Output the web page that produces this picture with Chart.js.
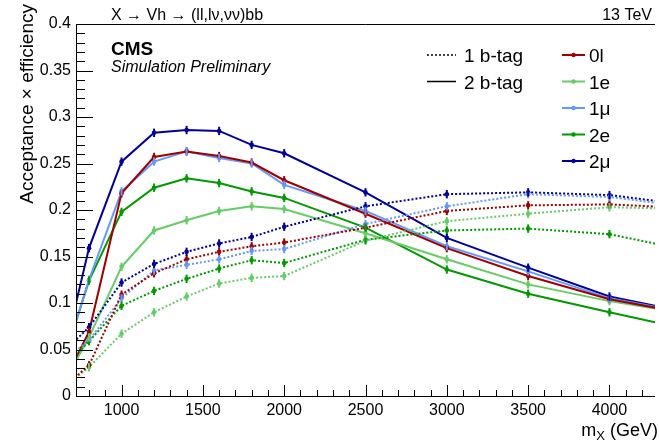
<!DOCTYPE html>
<html lang="en">
<head>
<meta charset="UTF-8">
<title>Acceptance x efficiency</title>
<script src="https://cdn.jsdelivr.net/npm/chart.js"></script>
<style>
  html, body { margin: 0; padding: 0; background: #fff; }
  #wrap { width: 659px; height: 443px; position: relative; }
</style>
</head>
<body>
<div id="wrap"><canvas id="effChart"></canvas></div>
<script>
// signal masses (GeV); 600 and 4500 sit just outside the visible x range
var masses = [600, 800, 1000, 1200, 1400, 1600, 1800, 2000, 2500, 3000, 3500, 4000, 4500];

// 1 b-tag (dotted)
var oneTag0l  = [0.003, 0.033, 0.109, 0.132, 0.147, 0.155, 0.161, 0.165, 0.181, 0.199, 0.205, 0.206, 0.202];
var oneTag1e  = [0.003, 0.031, 0.067, 0.090, 0.107, 0.121, 0.127, 0.129, 0.167, 0.188, 0.196, 0.203, 0.201];
var oneTag1mu = [0.032, 0.060, 0.105, 0.135, 0.141, 0.147, 0.156, 0.158, 0.185, 0.204, 0.217, 0.214, 0.203];
var oneTag2e  = [0.022, 0.059, 0.097, 0.113, 0.126, 0.137, 0.146, 0.143, 0.168, 0.178, 0.180, 0.174, 0.156];
var oneTag2mu = [0.040, 0.074, 0.122, 0.142, 0.155, 0.164, 0.171, 0.182, 0.204, 0.217, 0.219, 0.216, 0.205];

// 2 b-tag (solid)
var twoTag0l  = [0.000, 0.069, 0.218, 0.257, 0.263, 0.258, 0.251, 0.232, 0.196, 0.159, 0.129, 0.104, 0.088];
var twoTag1e  = [0.000, 0.063, 0.139, 0.178, 0.189, 0.199, 0.204, 0.201, 0.175, 0.147, 0.120, 0.102, 0.088];
var twoTag1mu = [0.014, 0.125, 0.220, 0.252, 0.263, 0.256, 0.250, 0.227, 0.199, 0.161, 0.134, 0.105, 0.089];
var twoTag2e  = [0.014, 0.124, 0.198, 0.224, 0.234, 0.229, 0.220, 0.213, 0.181, 0.136, 0.110, 0.090, 0.071];
var twoTag2mu = [0.011, 0.159, 0.252, 0.283, 0.286, 0.285, 0.270, 0.261, 0.219, 0.170, 0.138, 0.107, 0.089];

var channels = ['0l', '1e', '1\u03bc', '2e', '2\u03bc'];
var channelColors = ['#a00000', '#66cc66', '#6699ff', '#009900', '#000099'];
var oneTag = [oneTag0l, oneTag1e, oneTag1mu, oneTag2e, oneTag2mu];
var twoTag = [twoTag0l, twoTag1e, twoTag1mu, twoTag2e, twoTag2mu];

var xTicks = [1000, 1500, 2000, 2500, 3000, 3500, 4000];
var yTicks = [0, 0.05, 0.1, 0.15, 0.2, 0.25, 0.3, 0.35, 0.4];
var xMin = 720, xMax = 4280;
var errHalf = 0.0045;

var FONT = "'Liberation Sans', Arial, Helvetica, sans-serif";
Chart.defaults.font.family = FONT;
Chart.defaults.color = '#000';

function series(vals) {
    return masses.map(function (m, i) { return { x: m, y: vals[i] }; });
}

var datasets = [];
oneTag.forEach(function (vals, i) {
    datasets.push({
        label: channels[i] + ' 1 b-tag',
        data: series(vals),
        borderColor: channelColors[i],
        backgroundColor: channelColors[i],
        borderWidth: 2,
        borderDash: [2, 2],
        pointRadius: 2.3,
        pointBorderWidth: 0,
        tension: 0
    });
});
twoTag.forEach(function (vals, i) {
    datasets.push({
        label: channels[i] + ' 2 b-tag',
        data: series(vals),
        borderColor: channelColors[i],
        backgroundColor: channelColors[i],
        borderWidth: 2,
        pointRadius: 2.3,
        pointBorderWidth: 0,
        tension: 0
    });
});

// ROOT-like frame, inward ticks, error bars, labels and legend
var rootStyle = {
    id: 'rootStyle',
    afterDatasetsDraw: function (chart) {
        var ctx = chart.ctx, a = chart.chartArea;
        var xs = chart.scales.x, ys = chart.scales.y;
        ctx.save();
        ctx.beginPath();
        ctx.rect(a.left, a.top, a.right - a.left, a.bottom - a.top);
        ctx.clip();
        ctx.lineWidth = 2;
        ctx.setLineDash([]);
        chart.data.datasets.forEach(function (ds) {
            ctx.strokeStyle = ds.borderColor;
            ds.data.forEach(function (p) {
                var px = xs.getPixelForValue(p.x);
                ctx.beginPath();
                ctx.moveTo(px, ys.getPixelForValue(p.y - errHalf));
                ctx.lineTo(px, ys.getPixelForValue(p.y + errHalf));
                ctx.stroke();
            });
        });
        ctx.restore();
    },
    afterDraw: function (chart) {
        var ctx = chart.ctx, a = chart.chartArea;
        var xs = chart.scales.x, ys = chart.scales.y;
        ctx.save();
        ctx.strokeStyle = '#000';
        ctx.lineWidth = 1;
        ctx.setLineDash([]);

        // frame
        ctx.beginPath();
        ctx.moveTo(a.left + 0.5, a.top + 0.5);
        ctx.lineTo(a.left + 0.5, a.bottom + 0.5);
        ctx.lineTo(a.right, a.bottom + 0.5);
        ctx.moveTo(a.left + 0.5, a.top + 0.5);
        ctx.lineTo(a.right, a.top + 0.5);
        ctx.stroke();

        // y ticks every 0.01, major every 0.05
        ctx.beginPath();
        for (var k = 0; k <= 40; k++) {
            var py = Math.round(ys.getPixelForValue(k / 100)) + 0.5;
            var len = (k % 5 === 0) ? 17 : 9;
            ctx.moveTo(a.left, py);
            ctx.lineTo(a.left + len, py);
        }
        // x ticks every 100, major every 500
        for (var m = 800; m <= 4200; m += 100) {
            var px = Math.round(xs.getPixelForValue(m)) + 0.5;
            var l2 = (m % 500 === 0) ? 11 : 6;
            ctx.moveTo(px, a.bottom);
            ctx.lineTo(px, a.bottom - l2);
        }
        ctx.stroke();

        ctx.fillStyle = '#000';
        ctx.textBaseline = 'alphabetic';

        // header
        ctx.font = '16px ' + FONT;
        ctx.textAlign = 'left';
        ctx.fillText('X \u2192 Vh \u2192 (ll,l\u03bd,\u03bd\u03bd)bb', 111, 20);
        ctx.textAlign = 'right';
        ctx.fillText('13 TeV', 652, 20);

        ctx.textAlign = 'left';
        ctx.font = 'bold 19px ' + FONT;
        ctx.fillText('CMS', 111, 55);
        ctx.font = 'italic 16px ' + FONT;
        ctx.fillText('Simulation Preliminary', 111, 72);

        // axis titles
        ctx.font = '18px ' + FONT;
        ctx.textAlign = 'right';
        var tail = ' (GeV)';
        var tailW = ctx.measureText(tail).width;
        ctx.fillText(tail, 658, 436);
        ctx.font = '13px ' + FONT;
        var subW = ctx.measureText('X').width;
        ctx.fillText('X', 658 - tailW, 440);
        ctx.font = '18px ' + FONT;
        ctx.fillText('m', 658 - tailW - subW, 436);

        ctx.save();
        ctx.translate(33, 4);
        ctx.rotate(-Math.PI / 2);
        ctx.font = '19px ' + FONT;
        ctx.textAlign = 'right';
        ctx.fillText('Acceptance \u00d7 efficiency', 0, 0);
        ctx.restore();

        // legend: b-tag styles
        ctx.font = '19px ' + FONT;
        ctx.textAlign = 'left';
        ctx.lineWidth = 1.5;
        [['1 b-tag', [2, 2]], ['2 b-tag', []]].forEach(function (it, i) {
            var ly = 55 + i * 26.5;
            ctx.setLineDash(it[1]);
            ctx.strokeStyle = '#000';
            ctx.beginPath();
            ctx.moveTo(427, ly);
            ctx.lineTo(456, ly);
            ctx.stroke();
            ctx.fillText(it[0], 464, ly + 7);
        });
        // legend: channels
        ctx.setLineDash([]);
        ctx.lineWidth = 2;
        channels.forEach(function (name, i) {
            var ly = 55 + i * 26.5;
            ctx.strokeStyle = channelColors[i];
            ctx.fillStyle = channelColors[i];
            ctx.beginPath();
            ctx.moveTo(562, ly);
            ctx.lineTo(585, ly);
            ctx.stroke();
            ctx.beginPath();
            ctx.arc(573.5, ly, 2.2, 0, Math.PI * 2);
            ctx.fill();
            ctx.fillStyle = '#000';
            ctx.fillText(name, 589, ly + 7);
        });
        ctx.restore();
    }
};

var ctx = document.getElementById('effChart').getContext('2d');
var effChart = new Chart(ctx, {
    type: 'line',
    data: { datasets: datasets },
    options: {
        responsive: true,
        maintainAspectRatio: false,
        animation: false,
        layout: { padding: { top: 24, right: 0, left: 0, bottom: 0 } },
        plugins: {
            legend: { display: false },
            tooltip: { enabled: false }
        },
        scales: {
            x: {
                type: 'linear',
                min: xMin,
                max: xMax,
                grid: { display: false, drawTicks: false },
                border: { display: false },
                afterBuildTicks: function (scale) {
                    scale.ticks = xTicks.map(function (v) { return { value: v }; });
                },
                afterFit: function (scale) { scale.height = 47; },
                ticks: {
                    padding: 5,
                    maxRotation: 0,
                    autoSkip: false,
                    font: { size: 16 },
                    callback: function (v) { return String(v); }
                }
            },
            y: {
                type: 'linear',
                min: 0,
                max: 0.4,
                grid: { display: false, drawTicks: false },
                border: { display: false },
                afterBuildTicks: function (scale) {
                    scale.ticks = yTicks.map(function (v) { return { value: v }; });
                },
                afterFit: function (scale) { scale.width = 76; },
                ticks: {
                    padding: 5,
                    autoSkip: false,
                    font: { size: 16 },
                    callback: function (v) { return String(+v.toFixed(2)); }
                }
            }
        }
    },
    plugins: [rootStyle]
});
</script>
</body>
</html>
